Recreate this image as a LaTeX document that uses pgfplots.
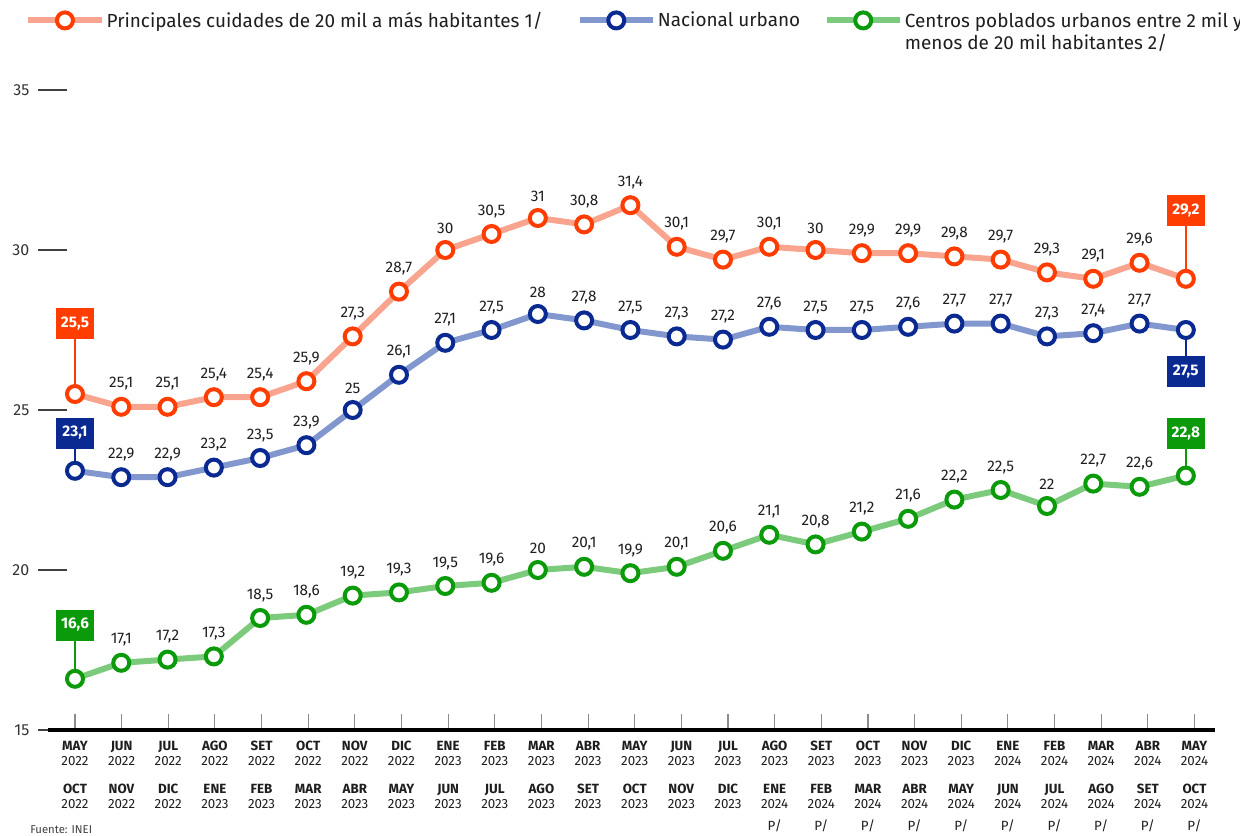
\documentclass[border=0pt]{standalone}
\usepackage{pgfplots}
\usepackage{pgfplotstable}
\pgfplotsset{compat=1.18}
\usepackage{fontspec}
\setmainfont{Fira Sans}
\definecolor{redL}{HTML}{F9A48E}
\definecolor{redM}{HTML}{FF3D00}
\definecolor{bluL}{HTML}{8397CF}
\definecolor{bluM}{HTML}{0A2A92}
\definecolor{grnL}{HTML}{7CCB7C}
\definecolor{grnM}{HTML}{0A9A0A}
\definecolor{txt}{HTML}{1E1E1E}

\pgfplotstableread{
x y lab
0 25.5 {}
1 25.1 25,1
2 25.1 25,1
3 25.4 25,4
4 25.4 25,4
5 25.9 25,9
6 27.3 27,3
7 28.7 28,7
8 30.0 30
9 30.5 30,5
10 31.0 31
11 30.8 30,8
12 31.4 31,4
13 30.1 30,1
14 29.7 29,7
15 30.1 30,1
16 30.0 30
17 29.9 29,9
18 29.9 29,9
19 29.8 29,8
20 29.7 29,7
21 29.3 29,3
22 29.1 29,1
23 29.6 29,6
24 29.1 {}
}\redtab

\pgfplotstableread{
x y lab
0 23.1 {}
1 22.9 22,9
2 22.9 22,9
3 23.2 23,2
4 23.5 23,5
5 23.9 23,9
6 25.0 25
7 26.1 26,1
8 27.1 27,1
9 27.5 27,5
10 28.0 28
11 27.8 27,8
12 27.5 27,5
13 27.3 27,3
14 27.2 27,2
15 27.6 27,6
16 27.5 27,5
17 27.5 27,5
18 27.6 27,6
19 27.7 27,7
20 27.7 27,7
21 27.3 27,3
22 27.4 27,4
23 27.7 27,7
24 27.5 {}
}\blutab

\pgfplotstableread{
x y lab
0 16.6 {}
1 17.1 17,1
2 17.2 17,2
3 17.3 17,3
4 18.5 18,5
5 18.6 18,6
6 19.2 19,2
7 19.3 19,3
8 19.5 19,5
9 19.6 19,6
10 20.0 20
11 20.1 20,1
12 19.9 19,9
13 20.1 20,1
14 20.6 20,6
15 21.1 21,1
16 20.8 20,8
17 21.2 21,2
18 21.6 21,6
19 22.2 22,2
20 22.5 22,5
21 22.0 22
22 22.7 22,7
23 22.6 22,6
24 22.95 {}
}\grntab

\newcommand{\tl}[4]{\textbf{#1}\\#2\\[9.75pt]\textbf{#3}\\#4}
\newcommand{\tlp}[4]{\textbf{#1}\\#2\\[9.75pt]\textbf{#3}\\#4\\[5.25pt]P/}

\begin{document}
\begin{tikzpicture}
\useasboundingbox (0,0) rectangle (930pt,627pt);
\begin{axis}[
  at={(36pt,79.5pt)}, anchor=south west, scale only axis,
  width=875.25pt, height=480pt,
  xmin=-0.583, xmax=24.63, ymin=15, ymax=35,
  clip=false,
  axis x line*=bottom, axis y line*=left,
  y axis line style={draw=none},
  x axis line style={line width=2.4pt, black},
  tick align=inside,
  major tick length=21.75pt,
  ytick={15,20,25,30,35},
  y tick style={line width=1pt, black!75, xshift=-7.5pt},
  yticklabel style={font=\fontsize{12}{14}\selectfont, text=black!80, xshift=-10.5pt},
  /pgf/number format/assume math mode=true,
  xtick={0,1.0078,2.0156,3.0233,4.0311,5.0389,6.0467,7.0545,8.0622,9.07,10.0778,11.0856,12.0934,13.1011,14.1089,15.1167,16.1245,17.1323,18.14,19.1478,20.1556,21.1634,22.1712,23.1789,24.1867},
  x tick style={/pgfplots/major tick length=12pt, line width=0.8pt, black!45},
  xticklabels={
    {\tl{MAY}{2022}{OCT}{2022}},
    {\tl{JUN}{2022}{NOV}{2022}},
    {\tl{JUL}{2022}{DIC}{2022}},
    {\tl{AGO}{2022}{ENE}{2023}},
    {\tl{SET}{2022}{FEB}{2023}},
    {\tl{OCT}{2022}{MAR}{2023}},
    {\tl{NOV}{2022}{ABR}{2023}},
    {\tl{DIC}{2022}{MAY}{2023}},
    {\tl{ENE}{2023}{JUN}{2023}},
    {\tl{FEB}{2023}{JUL}{2023}},
    {\tl{MAR}{2023}{AGO}{2023}},
    {\tl{ABR}{2023}{SET}{2023}},
    {\tl{MAY}{2023}{OCT}{2023}},
    {\tl{JUN}{2023}{NOV}{2023}},
    {\tl{JUL}{2023}{DIC}{2023}},
    {\tlp{AGO}{2023}{ENE}{2024}},
    {\tlp{SET}{2023}{FEB}{2024}},
    {\tlp{OCT}{2023}{MAR}{2024}},
    {\tlp{NOV}{2023}{ABR}{2024}},
    {\tlp{DIC}{2023}{MAY}{2024}},
    {\tlp{ENE}{2024}{JUN}{2024}},
    {\tlp{FEB}{2024}{JUL}{2024}},
    {\tlp{MAR}{2024}{AGO}{2024}},
    {\tlp{ABR}{2024}{SET}{2024}},
    {\tlp{MAY}{2024}{OCT}{2024}}},
  xticklabel style={font=\fontsize{10}{11.25}\selectfont, align=center, text=txt, anchor=north, yshift=-4.75pt},
  point meta=explicit symbolic,
  nodes near coords,
  every node near coord/.append style={font=\fontsize{11.5}{13}\selectfont, text=txt, anchor=south, yshift=7.5pt},
  legend columns=3,
  legend cell align=left,
  legend style={draw=none, fill=none, inner sep=0pt, at={(axis description cs:-0.0197,1.129)}, anchor=north west,
    font=\fontsize{14.2}{16.5}\selectfont, text=txt,
    nodes={inner xsep=1.5pt, inner ysep=3pt},
    /tikz/column 2/.style={column sep=24pt},
    /tikz/column 4/.style={column sep=16pt}},
  legend image code/.code={\draw[mark repeat=2,mark phase=2] plot coordinates {(0pt,0pt) (27.5pt,0pt) (55pt,0pt)};},
]
% boxed end labels
\draw[redM, line width=1.5pt] (axis cs:0,25.5) -- (axis cs:0,27.7) node[fill=redM, text=white, font=\bfseries\fontsize{11.5}{13}\selectfont, minimum width=28.5pt, minimum height=23.25pt, inner sep=0pt]{25,5};
\draw[bluM, line width=1.5pt] (axis cs:0,23.1) -- (axis cs:0,24.28) node[fill=bluM, text=white, font=\bfseries\fontsize{11.5}{13}\selectfont, minimum width=28.5pt, minimum height=23.25pt, inner sep=0pt]{23,1};
\draw[grnM, line width=1.5pt] (axis cs:0,16.6) -- (axis cs:0,18.28) node[fill=grnM, text=white, font=\bfseries\fontsize{11.5}{13}\selectfont, minimum width=28.5pt, minimum height=23.25pt, inner sep=0pt]{16,6};
\draw[redM, line width=1.5pt] (axis cs:24,29.1) -- (axis cs:24,31.22) node[fill=redM, text=white, font=\bfseries\fontsize{11.5}{13}\selectfont, minimum width=28.5pt, minimum height=23.25pt, inner sep=0pt]{29,2};
\draw[bluM, line width=1.5pt] (axis cs:24,27.5) -- (axis cs:24,26.19) node[fill=bluM, text=white, font=\bfseries\fontsize{11.5}{13}\selectfont, minimum width=28.5pt, minimum height=23.25pt, inner sep=0pt]{27,5};
\draw[grnM, line width=1.5pt] (axis cs:24,22.95) -- (axis cs:24,24.25) node[fill=grnM, text=white, font=\bfseries\fontsize{11.5}{13}\selectfont, minimum width=28.5pt, minimum height=23.25pt, inner sep=0pt]{22,8};

\addplot[redL, line width=4.5pt, mark=*, mark size=6pt, mark options={draw=redM, fill=white, line width=3pt}] table[x=x, y=y, meta=lab] {\redtab};
\addlegendentry{Principales cuidades de 20 mil a más habitantes 1/}
\addplot[bluL, line width=4.5pt, mark=*, mark size=6pt, mark options={draw=bluM, fill=white, line width=3pt}] table[x=x, y=y, meta=lab] {\blutab};
\addlegendentry{Nacional urbano}
\addplot[grnL, line width=4.5pt, mark=*, mark size=6pt, mark options={draw=grnM, fill=white, line width=3pt}] table[x=x, y=y, meta=lab] {\grntab};
\addlegendentry{\begin{tabular}[t]{@{}l@{}}Centros poblados urbanos entre 2 mil y\\menos de 20 mil habitantes 2/\end{tabular}}
\end{axis}
\node[anchor=base west, font=\fontsize{8.5}{10}\selectfont, text=black!75, inner sep=0pt] at (22.5pt,1.5pt) {Fuente: INEI};
\end{tikzpicture}
\end{document}
